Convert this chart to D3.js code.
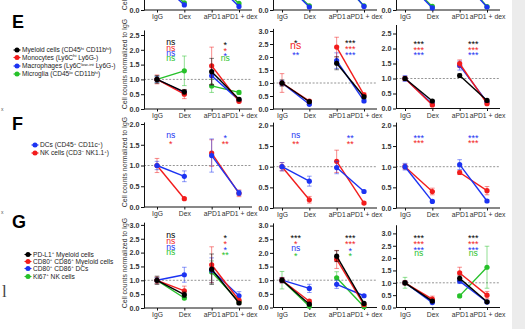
<!DOCTYPE html>
<html>
<head>
<meta charset="utf-8">
<script src="https://cdn.jsdelivr.net/npm/d3@7"></script>
<style>
  body { margin: 0; background: #fff; }
  svg { display: block; font-family: "Liberation Sans", Arial, sans-serif; }
</style>
</head>
<body>
<svg id="fig" width="525" height="329"></svg>
<script>
const categories = ["IgG", "Dex", "aPD1", "aPD1 + dex"];

// row D is cut off by the crop, only its bottom shows (blue, green)
const D1_mean = [[1, 0.17, 1.0, 0.12], [1, 0.24, 1.0, 0.22]];
const D2_mean = [[1, 0.1, 1.2, 0.12], [1, 0.14, 1.1, 0.14]];
const D3_mean = [[1, 0.07, 1.1, 0.1], [1, 0.12, 1.2, 0.11]];

// row E: black, red, blue, green
const E1_mean = [[1, 0.58, 1.26, 0.33], [1, 0.5, 1.46, 0.26], [1, 0.55, 1.12, 0.3], [1, 1.29, 0.78, 0.56]];
const E1_err  = [[0.13, 0.08, 0.45, 0.05], [0.15, 0.15, 0.63, 0.05], [0.1, 0.08, 0.3, 0.05], [0.1, 0.5, 0.22, 0.06]];
const E1_sig  = [["ns", "ns", "ns", "ns"], ["*", "*", "*", "ns"]];

const E2_mean = [[1, 0.28, 1.76, 0.47], [1, 0.3, 2.38, 0.54], [1, 0.18, 1.86, 0.31]];
const E2_err  = [[0.12, 0.04, 0.25, 0.06], [0.36, 0.05, 0.38, 0.08], [0.1, 0.03, 0.3, 0.05]];
const E2_sig  = [["*", "ns", "**"], ["***", "***", "***"]];

const E3_mean = [[1, 0.25, 1.1, 0.27], [1, 0.12, 1.5, 0.16], [1, 0.15, 1.43, 0.22]];
const E3_err  = [[0.06, 0.03, 0.06, 0.04], [0.07, 0.03, 0.12, 0.03], [0.1, 0.03, 0.15, 0.03]];
const E3_sig  = [["***", "***", "***"], ["***", "***", "***"]];

// row F: blue, red
const F1_mean = [[1, 0.74, 1.24, 0.34], [1, 0.2, 1.3, 0.33]];
const F1_err  = [[0.1, 0.13, 0.4, 0.06], [0.17, 0.03, 0.32, 0.08]];
const F1_sig  = [["ns", "*"], ["*", "**"]];

const F2_mean = [[1, 0.65, 0.98, 0.4], [1, 0.2, 1.13, 0.12]];
const F2_err  = [[0.1, 0.12, 0.15, 0.03], [0.1, 0.08, 0.27, 0.03]];
const F2_sig  = [["ns", "**"], ["**", "**"]];

const F3_mean = [[1, 0.16, 1.05, 0.17], [1, 0.4, 0.86, 0.42]];
const F3_err  = [[0.08, 0.03, 0.12, 0.03], [0.06, 0.08, 0.05, 0.1]];
const F3_sig  = [["***", "***"], ["***", "***"]];

// row G: black, red, blue, green
const G1_mean = [[1, 0.48, 1.4, 0.18], [1, 0.62, 1.56, 0.28], [1, 1.2, 1.36, 0.44], [1, 0.36, 1.3, 0.23]];
const G1_err  = [[0.15, 0.1, 0.55, 0.05], [0.12, 0.17, 0.65, 0.06], [0.1, 0.27, 0.45, 0.15], [0.1, 0.06, 0.4, 0.05]];
const G1_sig  = [["ns", "ns", "ns", "ns"], ["*", "*", "*", "**"]];

const G2_mean = [[1, 0.12, 1.88, 0.15], [1, 0.23, 1.76, 0.1], [1, 0.7, 0.85, 0.43], [1, 0.05, 1.09, 0.03]];
const G2_err  = [[0.08, 0.03, 0.2, 0.04], [0.1, 0.05, 0.33, 0.03], [0.1, 0.15, 0.15, 0.04], [0.32, 0.03, 0.22, 0.02]];
const G2_sig  = [["***", "*", "ns", "*"], ["***", "***", "*", "*"]];

const G3_mean = [[1, 0.26, 1.18, 0.23], [1, 0.34, 1.4, 0.5], [1, 0.2, 1.07, 0.22], [1, 0.25, 0.47, 1.63]];
const G3_err  = [[0.08, 0.05, 0.1, 0.04], [0.08, 0.12, 0.23, 0.15], [0.06, 0.04, 0.1, 0.04], [0.22, 0.04, 0.06, 0.85]];
const G3_sig  = [["***", "***", "***", "ns"], ["***", "***", "***", "ns"]];

// legend labels, ^...^ marks superscript
const legendE = ["Myeloid cells (CD45^hi^ CD11b^hi^)", "Monocytes (Ly6C^hi^ Ly6G-)",
                 "Macrophages (Ly6C^low-int^ Ly6G-)", "Microglia (CD45^lo^ CD11b^hi^)"];
const legendF = ["DCs (CD45^+^ CD11c^+^)", "NK cells (CD3^\u2212^ NK1.1^+^)"];
const legendG = ["PD-L1^+^ Myeloid cells", "CD80^+^ CD86^+^ Myeloid cells", "CD80^+^ CD86^+^ DCs", "Ki67^+^ NK cells"];

const BLACK = "#000000", RED = "#f21c1c", BLUE = "#1c33f2", GREEN = "#26c12a";
const colorsEG = [BLACK, RED, BLUE, GREEN];
const colorsF = [BLUE, RED];

const svg = d3.select("#fig");
svg.append("rect").attr("width", 525).attr("height", 329).attr("fill", "#fff");
// grey strip at the right edge of the scan
svg.append("rect").attr("x", 512).attr("width", 13).attr("height", 329).attr("fill", "#ececec");

const cols = [
  {ax: 144, x0: 157, x1: 239, end: 252},
  {ax: 273, x0: 282, x1: 364, end: 377},
  {ax: 396, x0: 405, x1: 487, end: 500}
];

function drawChart(c) {
  const g = svg.append("g");
  const x = d3.scalePoint().domain(categories).range([c.col.x0, c.col.x1]);
  const y = d3.scaleLinear().domain([0, c.top]).range([c.y0, c.y0 - c.top * c.ppu]);

  // dashed reference at 1.0
  g.append("line")
    .attr("x1", c.col.ax).attr("x2", c.col.end)
    .attr("y1", y(1)).attr("y2", y(1))
    .attr("stroke", "#7a7a7a").attr("stroke-width", 0.8).attr("stroke-dasharray", "2,1.6");

  const yAxis = g.append("g")
    .attr("transform", `translate(${c.col.ax},0)`)
    .call(d3.axisLeft(y).tickValues(c.ticks).tickFormat(d3.format(".1f")).tickSize(3).tickSizeOuter(0).tickPadding(1.5));
  yAxis.selectAll("text").attr("font-size", 7.2).attr("font-weight", "bold").attr("fill", "#333").attr("font-family", null);

  const xAxis = g.append("g")
    .attr("transform", `translate(0,${c.y0})`)
    .call(d3.axisBottom(x).tickSize(2.5).tickSizeOuter(0).tickPadding(2));
  xAxis.select(".domain").attr("d", `M${c.col.ax},0H${c.col.end}`);
  xAxis.selectAll("text").attr("font-size", 6.8).attr("fill", "#333").attr("font-family", null);
  g.selectAll(".domain, .tick line").attr("stroke", "#111").attr("stroke-width", 1);

  if (c.title) {
    g.append("text")
      .attr("transform", `translate(127,${c.y0 - 45}) rotate(-90)`)
      .attr("text-anchor", "middle")
      .attr("font-size", 6.9)
      .attr("fill", "#333")
      .text("Cell counts normalized to IgG");
  }

  // draw series back to front so the first series sits on top
  const order = d3.range(c.means.length).reverse();
  order.forEach(i => {
    const col = c.colors[i];
    const m = c.means[i];
    const e = c.errs ? c.errs[i] : null;
    const s = g.append("g");
    if (e) {
      m.forEach((v, j) => {
        const cx = x(categories[j]);
        const eb = s.append("g").attr("stroke", col).attr("stroke-opacity", 0.5).attr("stroke-width", 1);
        eb.append("line").attr("x1", cx).attr("x2", cx).attr("y1", y(v - e[j])).attr("y2", y(v + e[j]));
        [v - e[j], v + e[j]].forEach(t => {
          eb.append("line").attr("x1", cx - 2.3).attr("x2", cx + 2.3).attr("y1", y(t)).attr("y2", y(t));
        });
      });
    }
    [[0, 1], [2, 3]].forEach(([a, b]) => {
      s.append("line")
        .attr("x1", x(categories[a])).attr("y1", y(m[a]))
        .attr("x2", x(categories[b])).attr("y2", y(m[b]))
        .attr("stroke", col).attr("stroke-width", 1.4);
    });
    s.selectAll("circle").data(m).enter().append("circle")
      .attr("cx", (d, j) => x(categories[j]))
      .attr("cy", d => y(d))
      .attr("r", 2.6)
      .attr("fill", col);
  });

  // significance marks, centred between paired groups
  if (c.sig) {
    const mids = [(x(categories[0]) + x(categories[1])) / 2, (x(categories[2]) + x(categories[3])) / 2];
    c.sig.forEach((labels, k) => {
      labels.forEach((lab, i) => {
        const yc = c.sigY[i];
        const isNs = lab === "ns";
        const big = c.bigNs && c.bigNs[0] === k && c.bigNs[1] === i;
        const fs = isNs ? (big ? 10.5 : 8.6) : 9;
        g.append("text")
          .attr("x", mids[k])
          .attr("y", isNs ? yc + fs * 0.27 : yc + 5.3)
          .attr("text-anchor", "middle")
          .attr("font-size", fs)
          .attr("fill", c.colors[i])
          .text(lab);
      });
    });
  }
}

const tick25 = [0, 0.5, 1, 1.5, 2, 2.5];
const tick30 = [0, 0.5, 1, 1.5, 2, 2.5, 3];
const tick20 = [0, 0.5, 1, 1.5, 2];

const charts = [
  {col: cols[0], y0: 10, ppu: 30, top: 2.7, ticks: [0], means: D1_mean, colors: [BLUE, GREEN], title: true},
  {col: cols[1], y0: 10, ppu: 30, top: 2.7, ticks: [0], means: D2_mean, colors: [BLUE, GREEN]},
  {col: cols[2], y0: 10, ppu: 30, top: 2.7, ticks: [0], means: D3_mean, colors: [BLUE, GREEN]},

  {col: cols[0], y0: 109, ppu: 29.6, top: 2.67, ticks: tick25, means: E1_mean, errs: E1_err, colors: colorsEG,
   sig: E1_sig, sigY: [43, 48.3, 53.7, 59], title: true},
  {col: cols[1], y0: 109, ppu: 26, top: 3.1, ticks: tick30, means: E2_mean, errs: E2_err, colors: colorsEG,
   sig: E2_sig, sigY: [40.5, 46.5, 53], bigNs: [0, 1]},
  {col: cols[2], y0: 108.5, ppu: 30, top: 2.8, ticks: tick25, means: E3_mean, errs: E3_err, colors: colorsEG,
   sig: E3_sig, sigY: [42, 47.5, 53]},

  {col: cols[0], y0: 207, ppu: 41.5, top: 2.05, ticks: tick20, means: F1_mean, errs: F1_err, colors: colorsF,
   sig: F1_sig, sigY: [136, 142], title: true},
  {col: cols[1], y0: 208, ppu: 41.3, top: 2.08, ticks: tick20, means: F2_mean, errs: F2_err, colors: colorsF,
   sig: F2_sig, sigY: [135.5, 142]},
  {col: cols[2], y0: 208, ppu: 41.3, top: 2.08, ticks: tick20, means: F3_mean, errs: F3_err, colors: colorsF,
   sig: F3_sig, sigY: [135.5, 141]},

  {col: cols[0], y0: 308, ppu: 27.7, top: 3.1, ticks: tick30, means: G1_mean, errs: G1_err, colors: colorsEG,
   sig: G1_sig, sigY: [236, 241.7, 247.5, 253], title: true},
  {col: cols[1], y0: 307.5, ppu: 27.3, top: 3.1, ticks: tick30, means: G2_mean, errs: G2_err, colors: colorsEG,
   sig: G2_sig, sigY: [236, 242, 248.5, 254]},
  {col: cols[2], y0: 307.5, ppu: 24.7, top: 3.35, ticks: tick30, means: G3_mean, errs: G3_err, colors: colorsEG,
   sig: G3_sig, sigY: [236, 242, 248, 253.5]}
];
charts.forEach(drawChart);

// panel letters
[["E", 28], ["F", 130], ["G", 228]].forEach(([t, yb]) => {
  svg.append("text").attr("x", 12).attr("y", yb)
    .attr("font-size", 18).attr("font-weight", "bold").attr("fill", "#000").text(t);
});

// legends
function drawLegend(labels, colors, mx, ys) {
  labels.forEach((lab, i) => {
    const gy = ys[i];
    const lg = svg.append("g");
    lg.append("line").attr("x1", mx - 3.5).attr("x2", mx + 3.5).attr("y1", gy).attr("y2", gy)
      .attr("stroke", colors[i]).attr("stroke-width", 1.1);
    lg.append("circle").attr("cx", mx).attr("cy", gy).attr("r", 2.5).attr("fill", colors[i]);
    const t = lg.append("text").attr("x", mx + 5).attr("y", gy + 2.3)
      .attr("font-size", 6.6).attr("fill", "#222");
    let pending = 0;
    lab.split("^").forEach((part, k) => {
      if (!part) return;
      const sup = k % 2 === 1;
      const shift = sup ? -2.6 : 0;
      t.append("tspan")
        .attr("font-size", sup ? 4.4 : 6.6)
        .attr("dy", shift - pending)
        .text(part);
      pending = shift;
    });
  });
}
drawLegend(legendE, colorsEG, 17, [50, 57.5, 66, 74]);
drawLegend(legendF, colorsF, 35, [145, 153]);
drawLegend(legendG, colorsEG, 28, [254.5, 261.5, 268.5, 276.5]);

// small scan leftovers at the left margin
svg.append("text").attr("x", 1).attr("y", 111).attr("font-size", 5).attr("fill", "#555").text("x");
svg.append("text").attr("x", 1).attr("y", 214).attr("font-size", 5).attr("fill", "#555").text("x");
svg.append("text").attr("x", 2).attr("y", 297).attr("font-size", 17)
  .attr("font-family", "Liberation Serif, serif").attr("fill", "#444").text("l");
</script>
</body>
</html>
